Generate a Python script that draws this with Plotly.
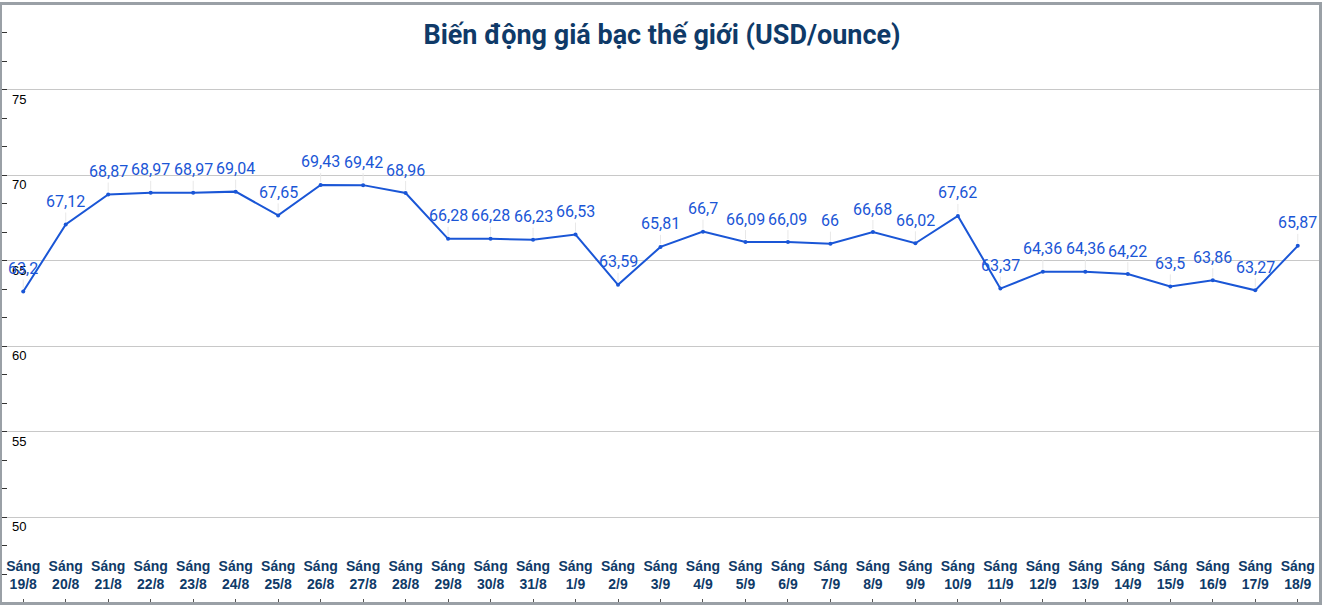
import plotly.graph_objects as go

# ==========================================================
# Data
# ==========================================================
dates = ["19/8", "20/8", "21/8", "22/8", "23/8", "24/8", "25/8", "26/8",
         "27/8", "28/8", "29/8", "30/8", "31/8", "1/9", "2/9", "3/9",
         "4/9", "5/9", "6/9", "7/9", "8/9", "9/9", "10/9", "11/9",
         "12/9", "13/9", "14/9", "15/9", "16/9", "17/9", "18/9"]
prices = [63.2, 67.12, 68.87, 68.97, 68.97, 69.04, 67.65, 69.43,
          69.42, 68.96, 66.28, 66.28, 66.23, 66.53, 63.59, 65.81,
          66.7, 66.09, 66.09, 66.0, 66.68, 66.02, 67.62, 63.37,
          64.36, 64.36, 64.22, 63.5, 63.86, 63.27, 65.87]
y_ticks = [50, 55, 60, 65, 70, 75]

categories = ["<b>Sáng<br>" + d + "</b>" for d in dates]
labels = [f"{v:g}".replace(".", ",") for v in prices]

BLUE = "#1a56d6"
NAVY = "#0f3a68"

fig = go.Figure()
fig.add_trace(go.Scatter(
    x=categories,
    y=prices,
    mode="lines+markers",
    line=dict(color=BLUE, width=2),
    marker=dict(color=BLUE, size=4),
    cliponaxis=False,
    showlegend=False,
))

# value labels with faint leader lines
for cat, val, lab in zip(categories, prices, labels):
    fig.add_annotation(
        x=cat, y=val, text=lab,
        showarrow=True, arrowhead=0, arrowwidth=1, arrowcolor="#e8e8e8",
        ax=0, ay=-23, standoff=3,
        font=dict(family="Roboto, Arial", size=16, color=BLUE),
    )

fig.update_layout(
    width=1324,
    height=605,
    margin=dict(l=2, r=2, t=2, b=3),
    paper_bgcolor="white",
    plot_bgcolor="white",
    title=dict(
        text="<b>Biến động giá bạc thế giới (USD/ounce)</b>",
        x=0.5, xanchor="center",
        y=1 - 35 / 605, yanchor="middle", yref="container",
        font=dict(family="Roboto, Arial", size=27, color=NAVY),
    ),
    xaxis=dict(
        type="category",
        range=[-0.5, len(dates) - 0.5],
        showgrid=False,
        ticks="inside",
        ticklen=3,
        tickcolor="#555",
        ticklabelposition="inside",
        ticklabelstandoff=7,
        ticklabeloverflow="allow",
        tickfont=dict(family="Liberation Sans, Arial", size=14, color=NAVY),
        showline=True,
        linecolor="#9aa0a6",
        linewidth=3,
        mirror=True,
        zeroline=False,
    ),
    yaxis=dict(
        range=[45.05, 79.95],
        tickvals=y_ticks,
        ticktext=[str(t) for t in y_ticks],
        ticklabelposition="inside bottom",
        ticklabelstandoff=8,
        ticklabeloverflow="allow",
        tickfont=dict(family="Liberation Sans, Arial", size=13, color="black"),
        showgrid=True,
        gridcolor="#c8c8c8",
        gridwidth=1,
        ticks="inside",
        ticklen=5,
        tickcolor="#333",
        minor=dict(tick0=50, dtick=5 / 3, ticks="inside", ticklen=5,
                   tickcolor="#333", showgrid=False),
        showline=True,
        linecolor="#9aa0a6",
        linewidth=3,
        mirror=True,
        zeroline=False,
    ),
)

# page has a default body margin; remove it so the chart fills the window
fig.write_html(
    "out.html",
    config={"displayModeBar": False},
    post_script="document.body.style.margin='0';",
)
